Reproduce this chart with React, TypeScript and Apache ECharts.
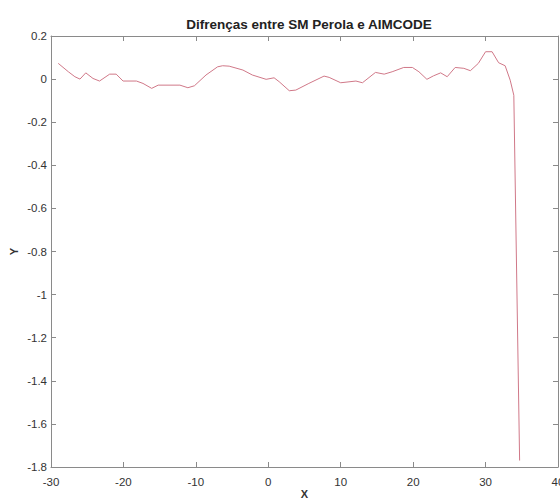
import React, { useEffect, useRef } from "react";
import * as echarts from "echarts";

const TITLE = "Difrenças entre SM Perola e AIMCODE";
const X_NAME = "X";
const Y_NAME = "Y";

const xValues = [
  -29.0, -27.6, -26.7, -26.0, -25.2, -24.2, -23.3, -21.9, -21.0, -20.05,
  -18.2, -17.3, -16.1, -15.2, -12.2, -11.1, -10.2, -8.6, -7.0, -6.3,
  -5.4, -3.5, -2.2, -0.3, 0.8, 1.5, 2.9, 3.8, 5.6, 7.7,
  8.4, 10.0, 12.1, 13.0, 14.8, 16.0, 17.1, 18.7, 19.9, 20.8,
  21.9, 22.8, 23.8, 24.7, 25.8, 27.0, 27.9, 29.0, 30.0, 30.9,
  31.8, 32.7, 33.4, 33.9, 34.7,
];

const yValues = [
  0.073, 0.034, 0.011, 0.0, 0.029, 0.003, -0.009, 0.023, 0.023, -0.009,
  -0.009, -0.02, -0.043, -0.028, -0.028, -0.04, -0.031, 0.019, 0.057, 0.062,
  0.06, 0.042, 0.019, -0.001, 0.006, -0.012, -0.054, -0.051, -0.02, 0.014,
  0.008, -0.017, -0.009, -0.017, 0.031, 0.023, 0.034, 0.054, 0.054, 0.034,
  -0.001, 0.015, 0.029, 0.011, 0.054, 0.05, 0.039, 0.073, 0.127, 0.127,
  0.076, 0.062, -0.005, -0.075, -1.77,
];

const X_MIN = -30;
const X_MAX = 40;
const X_STEP = 10;
const Y_MIN = -1.8;
const Y_MAX = 0.2;
const Y_STEP = 0.2;

const FONT = "Liberation Sans, Arial, sans-serif";
const AXIS_COLOR = "#8a8a8a";
const TEXT_COLOR = "#333";

export default function App() {
  const ref = useRef<HTMLDivElement>(null);

  useEffect(() => {
    if (!ref.current) return;
    const chart = echarts.init(ref.current, null, { renderer: "svg" });
    const data = xValues.map((x, i) => [x, yValues[i]]);
    const fmtY = (v: number) => String(Math.round(v * 10) / 10);
    const fmtX = (v: number) => String(Math.round(v));
    const baseAxis = {
      axisLine: { show: true, onZero: false, lineStyle: { color: AXIS_COLOR, width: 1 } },
      axisTick: { show: true, inside: true, length: 5, lineStyle: { color: AXIS_COLOR } },
      splitLine: { show: false },
    };
    chart.setOption({
      animation: false,
      backgroundColor: "#fff",
      title: {
        text: TITLE,
        left: 304,
        textAlign: "center",
        top: 12,
        textStyle: { fontFamily: FONT, fontSize: 13.5, fontWeight: "bold", color: "#222" },
      },
      grid: {
        left: 51,
        right: 2,
        top: 36,
        bottom: 31,
        containLabel: false,
        outerBoundsMode: "none",
      },
      xAxis: [
        {
          ...baseAxis,
          type: "value",
          position: "bottom",
          min: X_MIN,
          max: X_MAX,
          interval: X_STEP,
          name: X_NAME,
          nameLocation: "middle",
          nameGap: 21,
          nameMoveOverlap: false,
          nameTextStyle: { fontFamily: FONT, fontSize: 11, fontWeight: "bold", color: TEXT_COLOR },
          axisLabel: {
            show: true,
            margin: 9,
            formatter: fmtX,
            fontFamily: FONT,
            fontSize: 11.5,
            color: TEXT_COLOR,
            showMaxLabel: true,
            showMinLabel: true,
            hideOverlap: false,
          },
        },
        {
          ...baseAxis,
          type: "value",
          position: "top",
          min: X_MIN,
          max: X_MAX,
          interval: X_STEP,
          axisLabel: { show: false },
        },
      ],
      yAxis: [
        {
          ...baseAxis,
          type: "value",
          position: "left",
          min: Y_MIN,
          max: Y_MAX,
          interval: Y_STEP,
          name: Y_NAME,
          nameLocation: "middle",
          nameGap: 32,
          nameMoveOverlap: false,
          nameTextStyle: { fontFamily: FONT, fontSize: 11, fontWeight: "bold", color: TEXT_COLOR },
          axisLabel: {
            show: true,
            margin: 4,
            formatter: fmtY,
            fontFamily: FONT,
            fontSize: 11.5,
            color: TEXT_COLOR,
          },
        },
        {
          ...baseAxis,
          type: "value",
          position: "right",
          min: Y_MIN,
          max: Y_MAX,
          interval: Y_STEP,
          axisLabel: { show: false },
        },
      ],
      series: [
        {
          type: "line",
          data,
          xAxisIndex: 0,
          yAxisIndex: 0,
          showSymbol: false,
          symbol: "none",
          lineStyle: { color: "#d07888", width: 1 },
        },
      ],
    });
    return () => chart.dispose();
  }, []);

  return (
    <div
      ref={ref}
      style={{ position: "fixed", left: 0, top: 0, width: 560, height: 498, background: "#fff" }}
    />
  );
}
